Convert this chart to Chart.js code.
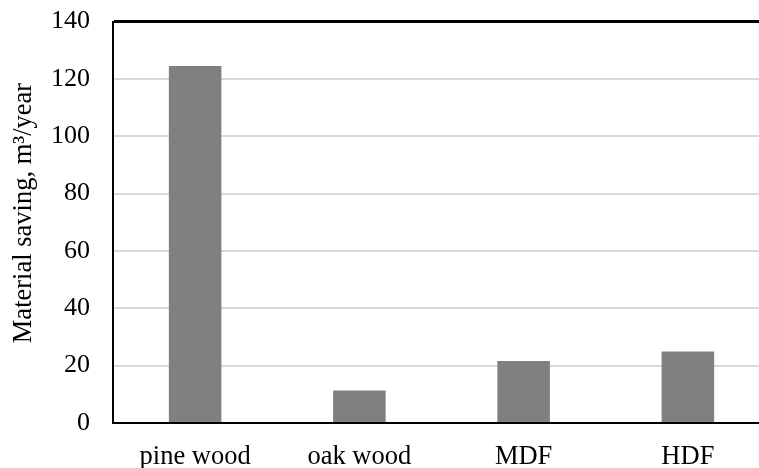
<!DOCTYPE html>
<html>
<head>
<meta charset="utf-8">
<script src="https://cdn.jsdelivr.net/npm/chart.js@4.4.1/dist/chart.umd.min.js"></script>
<style>
  html, body { margin: 0; padding: 0; background: #fff; overflow: hidden; }
  #wrap { width: 770px; height: 485px; margin-top: -17px; }
</style>
</head>
<body>
<div id="wrap"><canvas id="chart"></canvas></div>
<script>
const categories = ['pine wood', 'oak wood', 'MDF', 'HDF'];
const savings = [124.5, 11.3, 21.6, 24.9];
const yTicks = [0, 20, 40, 60, 80, 100, 120, 140];

const serif = "'Liberation Serif', 'Times New Roman', serif";

new Chart(document.getElementById('chart'), {
  type: 'bar',
  data: {
    labels: categories,
    datasets: [{
      data: savings,
      backgroundColor: '#808080',
      barPercentage: 0.32,
      categoryPercentage: 1,
    }],
  },
  options: {
    responsive: true,
    maintainAspectRatio: false,
    animation: false,
    plugins: {
      legend: { display: false },
      tooltip: { enabled: false },
    },
    scales: {
      x: {
        grid: { display: false, drawTicks: false },
        border: { color: '#000', width: 2 },
        ticks: {
          color: '#000',
          padding: 18,
          font: { family: serif, size: 26.5 },
          maxRotation: 0,
        },
        afterFit(scale) { scale.height = 45; },
      },
      y: {
        min: 0,
        max: 140,
        afterBuildTicks(scale) { scale.ticks = yTicks.map(v => ({ value: v })); },
        grid: {
          drawTicks: false,
          color: ctx => (ctx.tick && ctx.tick.value === 140 ? '#000' : '#d9d9d9'),
          lineWidth: ctx => (ctx.tick && ctx.tick.value === 140 ? 3 : 2),
        },
        border: { color: '#000', width: 2 },
        ticks: {
          color: '#000',
          padding: 23,
          font: { family: serif, size: 26 },
        },
        title: {
          display: true,
          // leading spaces nudge the centred title upward a little
          text: '\u2002\u2009Material saving, m\u00b3/year',
          color: '#000',
          font: { family: serif, size: 26.5 },
          padding: { top: 8, bottom: 0 },
        },
        afterFit(scale) { scale.width = 113; },
      },
    },
  },
});
</script>
</body>
</html>
